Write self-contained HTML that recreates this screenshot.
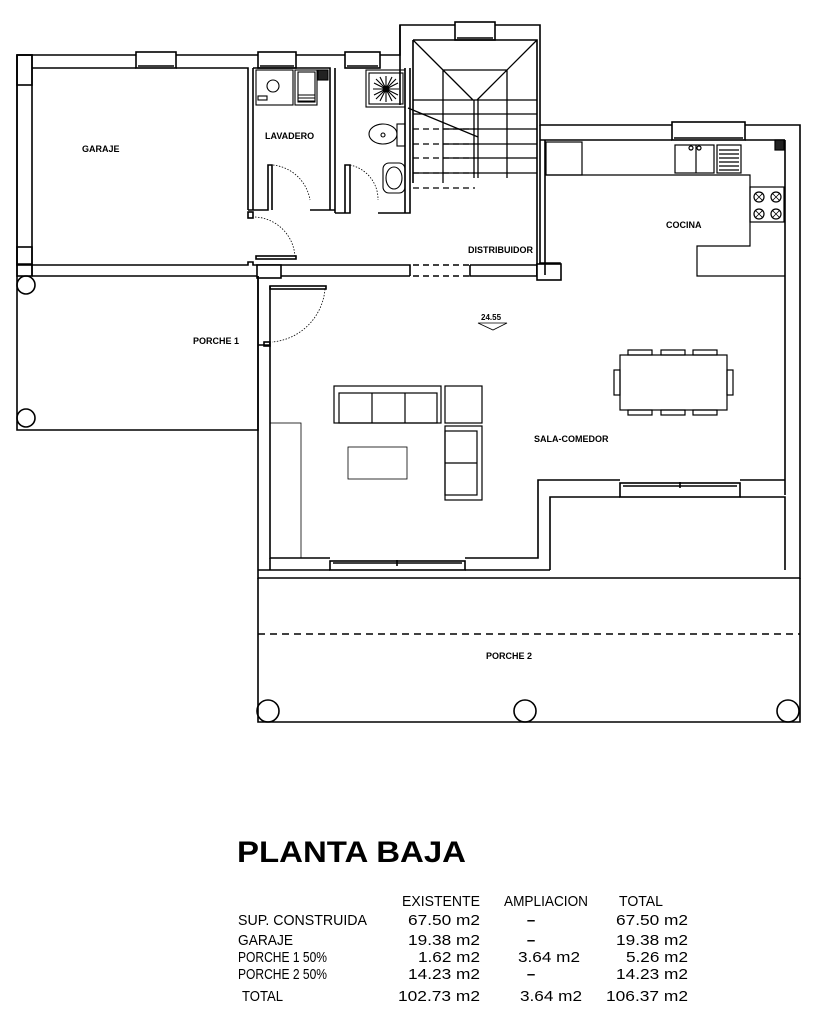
<!DOCTYPE html>
<html><head><meta charset="utf-8"><style>
html,body{margin:0;padding:0;background:#fff;width:822px;height:1016px;overflow:hidden}
svg{display:block}
text{font-family:"Liberation Sans",sans-serif;fill:#000}
</style></head><body>
<svg width="822" height="1016" viewBox="0 0 822 1016" xmlns="http://www.w3.org/2000/svg">
<g fill="none" stroke="#000" stroke-width="1.6">
<rect x="17" y="55" width="15" height="210" fill="#fff"/>
<path d="M17 55 H136 M176 55 H258 M296 55 H345 M380 55 H400 V25 H455 M495 25 H540 V125 H672 M745 125 H800 V578 H785"/>
<path d="M32 68 H136 M176 68 H248 V210 M253 68 V210 M248 210 H253"/>
<path d="M17 55 V276 M17 264 H32 M32 264 V276"/>
<rect x="17" y="55" width="15" height="30"/>
<rect x="17" y="247" width="15" height="29"/>
<rect x="136" y="52" width="40" height="16"/><line x1="138" y1="66" x2="174" y2="66"/>
<rect x="258" y="52" width="38" height="16"/><line x1="260" y1="66" x2="294" y2="66"/>
<rect x="345" y="52" width="35" height="16"/><line x1="347" y1="66" x2="378" y2="66"/>
<rect x="455" y="22" width="40" height="18"/><line x1="457" y1="38" x2="493" y2="38"/>
<path d="M253 68 H330 V210 M335 68 V213 M330 210 H335 M253 210 H268 V165 H272 V210 M310 210 H330"/>
<path d="M335 213 H350 V165 H345 V213 M378 213 H410 V68 M405 68 V213"/>
<path d="M400 25 V105 M413 40 V183 M413 40 H537 V275 M540 125 V275"/>
<g stroke-width="1.1">
<rect x="256" y="70" width="37" height="35"/><circle cx="273" cy="86" r="6"/><rect x="258" y="96" width="9" height="4"/>
<rect x="295" y="70" width="22" height="35"/><rect x="298" y="72" width="17" height="30"/>
<path d="M298 95 H315 M298 98 H315 M298 101 H315"/>
<rect x="318" y="70" width="10" height="10" fill="#222"/>
<rect x="366" y="70" width="39" height="37"/><rect x="369" y="73" width="34" height="31"/>
<circle cx="386" cy="89" r="3"/>
<path d="M376 79 L396 99 M396 79 L376 99 M386 76 V102 M373 89 H399 M380 77 L392 101 M392 77 L380 101 M374 83 L398 95 M398 83 L374 95"/>
<ellipse cx="383" cy="134" rx="14" ry="10"/><circle cx="383" cy="135" r="2"/><rect x="397" y="124" width="8" height="22"/>
<rect x="383" y="163" width="22" height="30" rx="6"/><ellipse cx="394" cy="178" rx="8" ry="11"/>
</g>
<path d="M273 165 A42 42 0 0 1 310 200" stroke-dasharray="1.5 1.5" stroke-width="0.8"/>
<path d="M350 165 A35 35 0 0 1 378 200" stroke-dasharray="1.5 1.5" stroke-width="0.8"/>
<path d="M255 217 A42 42 0 0 1 295 257" stroke-dasharray="1.5 1.5" stroke-width="0.8"/>
<rect x="256" y="256" width="40" height="3"/>
<rect x="248" y="212" width="5" height="6"/>
<g stroke-width="1.3">
<path d="M413 40 L473 100 M537 40 L477 100 M443 70 H507 M443 70 V183 M507 70 V178 M413 100 H537 M413 114 H537 M443 129 H537 M443 144 H537 M443 158 H537 M443 173 H537 M413 173 H537"/>
<path d="M474 100 V178 M478 100 V178 M408 108 L478 137" />
<path d="M413 129 H475 M413 144 H475 M413 158 H475 M413 173 H475 M413 188 H475" stroke-dasharray="6 4"/>
</g>
<path d="M32 265 H248 V262 H253 V265 H410 V276 M32 276 H258 M270 276 H410 M410 265 V270 M470 265 H537 V276 H470 V265 M540 275 H560 V263 H540 V276"/>
<path d="M413 265 H470 M413 276 H470" stroke-dasharray="6 4"/>
<rect x="257" y="265" width="24" height="13" fill="#fff"/>
<rect x="537" y="264" width="24" height="16" fill="#fff"/>
<rect x="270" y="286" width="56" height="3"/>
<path d="M325 289 A58 58 0 0 1 272 342" stroke-dasharray="1.5 1.5" stroke-width="0.8"/>
<rect x="264" y="342" width="6" height="4"/>
<path d="M17 276 V430 H258 V276"/>
<circle cx="26" cy="285" r="9"/><circle cx="26" cy="418" r="9"/>
<path d="M258 276 V578 H785 M270 286 V558 H330 M258 345 H270 V558 M465 558 H538 V480 H620 M740 480 H785 M550 570 V497 H620 M740 497 H785 V570 M785 140 V495"/>
<path d="M270 558 V570 M258 570 H330 M465 570 H550"/>
<rect x="330" y="561" width="135" height="9"/><line x1="333" y1="563" x2="462" y2="563"/><line x1="397" y1="560" x2="397" y2="566"/>
<rect x="620" y="483" width="120" height="14"/><line x1="623" y1="486" x2="737" y2="486"/><line x1="680" y1="482" x2="680" y2="488"/>
<rect x="270" y="423" width="31" height="135" stroke-width="0.8"/>
<path d="M540 140 H672 M745 140 H785 M545 140 V275"/>
<rect x="672" y="122" width="73" height="18"/><line x1="674" y1="138" x2="743" y2="138"/>
<g stroke-width="1.2">
<rect x="546" y="142" width="36" height="33"/>
<path d="M545 175 H750 V246 H697 V276 H785"/>
<rect x="675" y="145" width="39" height="28"/><line x1="696" y1="145" x2="696" y2="173"/>
<rect x="717" y="145" width="24" height="28"/><path d="M719 150 H739 M719 154 H739 M719 158 H739 M719 162 H739 M719 166 H739 M719 170 H739"/>
<circle cx="691" cy="148" r="2"/><circle cx="699" cy="148" r="2"/>
<rect x="775" y="140" width="9" height="10" fill="#222"/>
<rect x="750" y="187" width="34" height="35"/>
<circle cx="759" cy="197" r="5"/><circle cx="776" cy="197" r="5"/><circle cx="759" cy="214" r="5"/><circle cx="776" cy="214" r="5"/>
<path d="M755 193 L763 201 M763 193 L755 201 M772 193 L780 201 M780 193 L772 201 M755 210 L763 218 M763 210 L755 218 M772 210 L780 218 M780 210 L772 218" stroke-width="0.8"/>
</g>
<path d="M478 323 H507 L493 330 Z" stroke-width="0.8"/>
<g stroke-width="1.2">
<rect x="334" y="386" width="107" height="37"/><rect x="339" y="393" width="98" height="30"/>
<path d="M372 393 V423 M405 393 V423"/>
<rect x="445" y="386" width="37" height="37"/>
<rect x="445" y="426" width="37" height="74"/><rect x="445" y="431" width="32" height="64"/><line x1="445" y1="463" x2="477" y2="463"/>
<rect x="348" y="447" width="59" height="32" stroke-width="0.8"/>
<rect x="620" y="355" width="107" height="55"/>
<rect x="628" y="350" width="24" height="5"/><rect x="661" y="350" width="24" height="5"/><rect x="693" y="350" width="24" height="5"/>
<rect x="628" y="410" width="24" height="5"/><rect x="661" y="410" width="24" height="5"/><rect x="693" y="410" width="24" height="5"/>
<rect x="614" y="370" width="6" height="25"/><rect x="727" y="370" width="6" height="25"/>
</g>
<path d="M258 578 V722 H800 V578"/>
<line x1="258" y1="634" x2="800" y2="634" stroke-dasharray="7 5"/>
<circle cx="268" cy="711" r="11"/><circle cx="525" cy="711" r="11"/><circle cx="788" cy="711" r="11"/>
</g>
<g font-size="9" font-weight="bold">
<text x="82" y="152">GARAJE</text>
<text x="265" y="139">LAVADERO</text>
<text x="468" y="253">DISTRIBUIDOR</text>
<text x="666" y="228">COCINA</text>
<text x="193" y="344">PORCHE 1</text>
<text x="481" y="320" font-size="8">24.55</text>
<text x="534" y="442">SALA-COMEDOR</text>
<text x="486" y="659">PORCHE 2</text>
</g>
<text x="237" y="862" font-size="30" font-weight="bold" textLength="229" lengthAdjust="spacingAndGlyphs">PLANTA BAJA</text>
<g font-size="15">
<text x="402" y="906" textLength="78" lengthAdjust="spacingAndGlyphs">EXISTENTE</text>
<text x="504" y="906" textLength="84" lengthAdjust="spacingAndGlyphs">AMPLIACION</text>
<text x="619" y="906" textLength="44" lengthAdjust="spacingAndGlyphs">TOTAL</text>
<text x="238" y="925" textLength="129" lengthAdjust="spacingAndGlyphs">SUP. CONSTRUIDA</text>
<text x="238" y="945" textLength="55" lengthAdjust="spacingAndGlyphs">GARAJE</text>
<text x="238" y="962" textLength="89" lengthAdjust="spacingAndGlyphs">PORCHE 1 50%</text>
<text x="238" y="979" textLength="89" lengthAdjust="spacingAndGlyphs">PORCHE 2 50%</text>
<text x="242" y="1001" textLength="41" lengthAdjust="spacingAndGlyphs">TOTAL</text>
<text x="408" y="925" textLength="72" lengthAdjust="spacingAndGlyphs">67.50 m2</text>
<text x="408" y="945" textLength="72" lengthAdjust="spacingAndGlyphs">19.38 m2</text>
<text x="418" y="962" textLength="62" lengthAdjust="spacingAndGlyphs">1.62 m2</text>
<text x="408" y="979" textLength="72" lengthAdjust="spacingAndGlyphs">14.23 m2</text>
<text x="398" y="1001" textLength="82" lengthAdjust="spacingAndGlyphs">102.73 m2</text>
<text x="616" y="925" textLength="72" lengthAdjust="spacingAndGlyphs">67.50 m2</text>
<text x="616" y="945" textLength="72" lengthAdjust="spacingAndGlyphs">19.38 m2</text>
<text x="626" y="962" textLength="62" lengthAdjust="spacingAndGlyphs">5.26 m2</text>
<text x="616" y="979" textLength="72" lengthAdjust="spacingAndGlyphs">14.23 m2</text>
<text x="606" y="1001" textLength="82" lengthAdjust="spacingAndGlyphs">106.37 m2</text>
<text x="518" y="962" textLength="62" lengthAdjust="spacingAndGlyphs">3.64 m2</text>
<text x="520" y="1001" textLength="62" lengthAdjust="spacingAndGlyphs">3.64 m2</text>
<g text-anchor="middle" font-weight="bold"><text x="531" y="925">–</text><text x="531" y="945">–</text><text x="531" y="979">–</text></g>
</g>
</svg>
</body></html>
